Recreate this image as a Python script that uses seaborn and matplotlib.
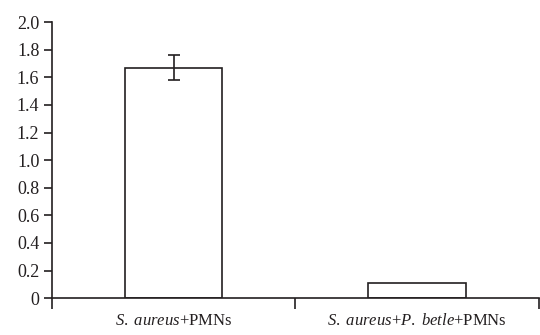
import matplotlib
matplotlib.use("Agg")
import matplotlib.pyplot as plt
from matplotlib.ticker import FuncFormatter, FixedLocator
import seaborn as sns
import pandas as pd

# valeurs
groups = [r"$\it{S.\ aureus}$+PMNs", r"$\it{S.\ aureus}$+$\it{P.\ betle}$+PMNs"]
values = [1.67, 0.11]
errors = [0.09, 0.0]
yticks = [0, 0.2, 0.4, 0.6, 0.8, 1.0, 1.2, 1.4, 1.6, 1.8, 2.0]

sns.set_style("ticks")
plt.rcParams['font.family'] = ['Liberation Serif', 'DejaVu Serif']
plt.rcParams['mathtext.fontset'] = 'custom'
plt.rcParams['mathtext.rm'] = 'Liberation Serif'
plt.rcParams['mathtext.it'] = 'Liberation Serif:italic'

df = pd.DataFrame({"group": groups, "value": values})

fig = plt.figure(figsize=(5.4, 3.35), dpi=100)
ax = fig.add_axes([0.096, 0.110, 0.902, 0.824])
sns.barplot(data=df, x="group", y="value", ax=ax, width=0.4,
            color="white", edgecolor="#231f20", linewidth=1.2)
ax.errorbar([0], values[:1], yerr=errors[:1], fmt="none",
            ecolor="#231f20", elinewidth=1.2, capsize=4, capthick=1.2)

ax.set_xlim(-0.5, 1.5)
ax.set_ylim(0, 2.0)
ax.set_yticks(yticks)
ax.yaxis.set_major_formatter(FuncFormatter(lambda v, p: "0" if v == 0 else f"{v:.1f}"))

# ticks aux limites des catégories, libellés au centre
ax.xaxis.set_major_locator(FixedLocator([-0.5, 0.5, 1.5]))
ax.set_xticklabels(["", "", ""])
ax.xaxis.set_minor_locator(FixedLocator([0, 1]))
ax.set_xticklabels(groups, minor=True)
ax.tick_params(axis="x", which="minor", length=0, pad=11, labelsize=12)
ax.tick_params(axis="x", which="major", length=8, width=1.2, direction="out", color="#231f20")
ax.tick_params(axis="y", length=6, width=1.2, labelsize=13, color="#231f20",
               labelcolor="#231f20", pad=3)
ax.tick_params(axis="x", which="minor", labelcolor="#231f20")

ax.set_xlabel("")
ax.set_ylabel("")
sns.despine(ax=ax)
for s in ["left", "bottom"]:
    ax.spines[s].set_linewidth(1.2)
    ax.spines[s].set_color("#231f20")

fig.savefig("out.png", dpi=100)
